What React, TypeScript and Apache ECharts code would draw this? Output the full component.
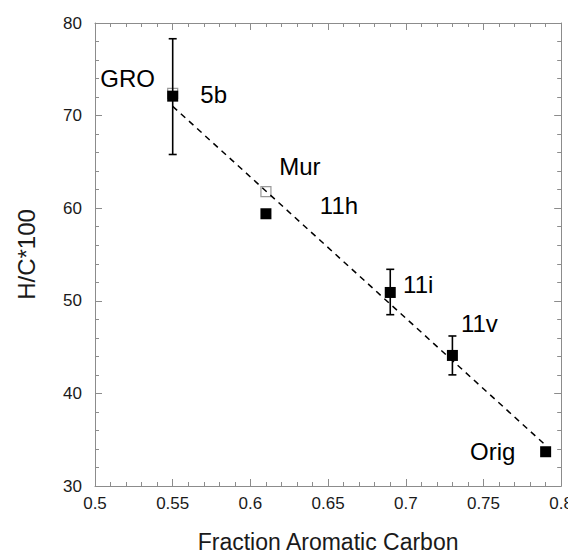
import React, { useEffect, useRef } from "react";
import * as echarts from "echarts";

// ---- Data ----
const pointNames = ["GRO", "5b", "Mur", "11h", "11i", "11v", "Orig"];
const pointX = [0.55, 0.55, 0.61, 0.61, 0.69, 0.73, 0.79];
const pointY = [72.4, 72.1, 61.8, 59.4, 50.9, 44.1, 33.7];
const pointFilled = [false, true, false, true, true, true, true];
const errLow: (number | null)[] = [null, 65.8, null, null, 48.5, 42.0, null];
const errHigh: (number | null)[] = [null, 78.3, null, null, 53.4, 46.2, null];

const fitX = [0.55, 0.79];
const fitY = [71.0, 34.4];

const xTicks = [0.5, 0.55, 0.6, 0.65, 0.7, 0.75, 0.8];
const yTicks = [30, 40, 50, 60, 70, 80];

const xTitle = "Fraction Aromatic Carbon";
const yTitle = "H/C*100";

// ---- Styles (label offsets in pixels from each point) ----
const labelOffsets: Record<string, [number, number]> = {
  GRO: [-45, -15],
  "5b": [41, -2],
  Mur: [34, -25],
  "11h": [73, -8],
  "11i": [28, -8],
  "11v": [27, -32],
  Orig: [-53, 0],
};

const FONT = "'Liberation Sans', Arial, Helvetica, sans-serif";
const FRAME = "#8c8c8c";

export default function App() {
  const ref = useRef<HTMLDivElement>(null);

  useEffect(() => {
    if (!ref.current) return;
    const chart = echarts.init(ref.current, undefined, { renderer: "svg" });

    const makePoint = (i: number) => ({
      value: [pointX[i], pointY[i]],
      name: pointNames[i],
      label: {
        show: true,
        position: "inside",
        offset: labelOffsets[pointNames[i]],
        formatter: pointNames[i],
        fontSize: 24,
        fontFamily: FONT,
        color: "#000",
        align: "center",
        verticalAlign: "middle",
      },
    });

    const openIdx = pointNames.map((_, i) => i).filter((i) => !pointFilled[i]);
    const filledIdx = pointNames.map((_, i) => i).filter((i) => pointFilled[i]);

    const errData = pointNames
      .map((_, i) => i)
      .filter((i) => errLow[i] != null && errHigh[i] != null)
      .map((i) => [pointX[i], errLow[i], errHigh[i]]);

    const axisCommon = {
      axisLine: { show: true, lineStyle: { color: FRAME, width: 1 } },
      axisTick: { show: true, inside: true, length: 7, lineStyle: { color: FRAME } },
      minorTick: { show: true, splitNumber: 5, length: 4, lineStyle: { color: FRAME } },
      splitLine: { show: false },
      minorSplitLine: { show: false },
    };

    const xMin = xTicks[0];
    const xMax = xTicks[xTicks.length - 1];
    const yMin = yTicks[0];
    const yMax = yTicks[yTicks.length - 1];

    chart.setOption({
      animation: false,
      backgroundColor: "#fff",
      grid: { left: 95, right: 14, top: 23, bottom: 67, containLabel: false },
      xAxis: [
        {
          type: "value",
          position: "bottom",
          min: xMin,
          max: xMax,
          interval: 0.05,
          ...axisCommon,
          axisLabel: {
            fontSize: 17,
            fontFamily: FONT,
            color: "#1a1a1a",
            margin: 9,
            formatter: (v: number) => String(Math.round(v * 100) / 100),
          },
          name: xTitle,
          nameLocation: "middle",
          nameGap: 44,
          nameTextStyle: { fontSize: 23, fontFamily: FONT, color: "#1a1a1a" },
        },
        {
          type: "value",
          position: "top",
          min: xMin,
          max: xMax,
          interval: 0.05,
          ...axisCommon,
          axisLabel: { show: false },
        },
      ],
      yAxis: [
        {
          type: "value",
          position: "left",
          min: yMin,
          max: yMax,
          interval: 10,
          ...axisCommon,
          axisLabel: {
            fontSize: 17,
            fontFamily: FONT,
            color: "#1a1a1a",
            margin: 13,
          },
          name: yTitle,
          nameLocation: "middle",
          nameGap: 57,
          nameRotate: 90,
          nameTextStyle: { fontSize: 24, fontFamily: FONT, color: "#1a1a1a" },
        },
        {
          type: "value",
          position: "right",
          min: yMin,
          max: yMax,
          interval: 10,
          ...axisCommon,
          axisLabel: { show: false },
        },
      ],
      series: [
        {
          type: "scatter",
          name: "open",
          xAxisIndex: 0,
          yAxisIndex: 0,
          symbol: "rect",
          symbolSize: 10,
          itemStyle: { color: "rgba(255,255,255,0)", borderColor: "#999", borderWidth: 1.2, opacity: 1 },
          data: openIdx.map(makePoint),
          z: 2,
        },
        {
          type: "line",
          name: "fit",
          xAxisIndex: 0,
          yAxisIndex: 0,
          data: fitX.map((x, i) => [x, fitY[i]]),
          showSymbol: false,
          symbol: "none",
          lineStyle: { color: "#000", width: 1.5, type: [6, 5] },
          z: 3,
        },
        {
          type: "custom",
          name: "err",
          xAxisIndex: 0,
          yAxisIndex: 0,
          data: errData,
          encode: { x: 0, y: [1, 2] },
          renderItem: (params: any, api: any) => {
            const x = api.value(0);
            const lo = api.coord([x, api.value(1)]);
            const hi = api.coord([x, api.value(2)]);
            const cw = 4;
            const style = { stroke: "#000", lineWidth: 1.6, fill: "none" };
            return {
              type: "group",
              children: [
                { type: "line", shape: { x1: lo[0], y1: lo[1], x2: hi[0], y2: hi[1] }, style },
                { type: "line", shape: { x1: lo[0] - cw, y1: lo[1], x2: lo[0] + cw, y2: lo[1] }, style },
                { type: "line", shape: { x1: hi[0] - cw, y1: hi[1], x2: hi[0] + cw, y2: hi[1] }, style },
              ],
            };
          },
          z: 4,
        },
        {
          type: "scatter",
          name: "filled",
          xAxisIndex: 0,
          yAxisIndex: 0,
          symbol: "rect",
          symbolSize: 11,
          itemStyle: { color: "#000", opacity: 1 },
          data: filledIdx.map(makePoint),
          z: 5,
        },
      ],
    });

    return () => chart.dispose();
  }, []);

  return <div ref={ref} style={{ width: 576, height: 558, margin: -8 }} />;
}
